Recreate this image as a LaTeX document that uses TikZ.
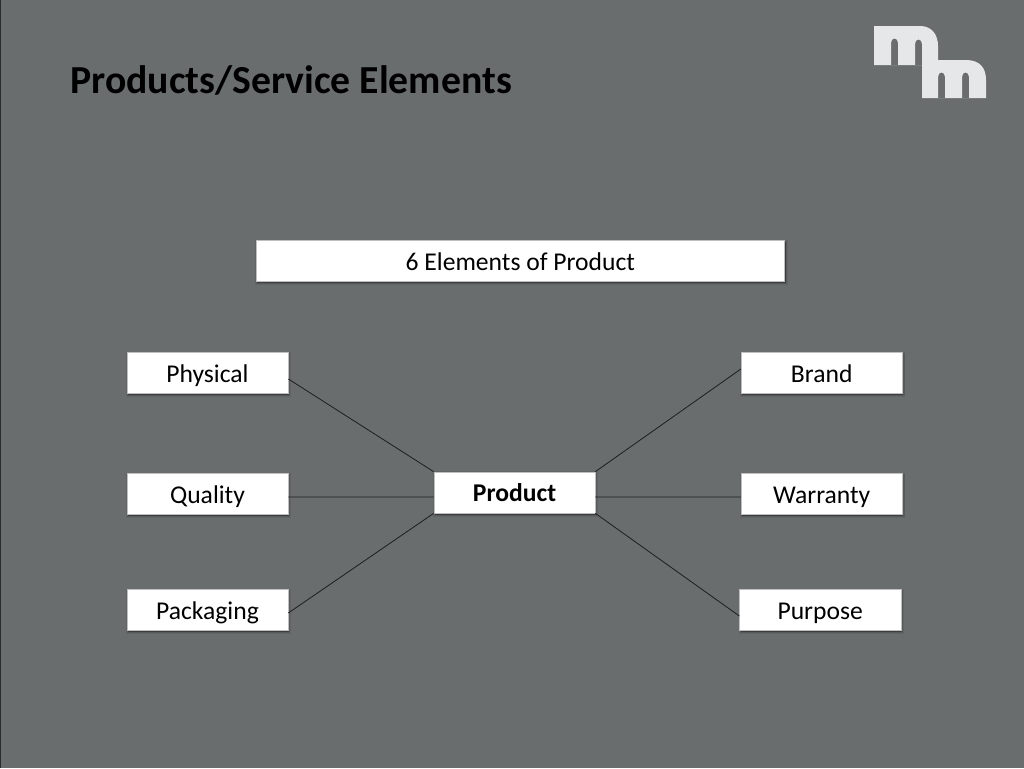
\documentclass[tikz,border=0pt]{standalone}
\usepackage{fontspec}
\setmainfont{Carlito}
\usetikzlibrary{shadows}
\definecolor{bg}{HTML}{696D6E}
\definecolor{logo}{HTML}{E6E7E8}
\definecolor{edge}{HTML}{2A2C2D}
\definecolor{wire}{HTML}{1C1E1F}
\tikzset{
  softshadow/.style={
    general shadow={shadow xshift=0.8pt,shadow yshift=-1.1pt,fill=black,opacity=.07,draw=black,line width=3pt},
    general shadow={shadow xshift=0.8pt,shadow yshift=-1.1pt,fill=black,opacity=.10,draw=black,line width=1.6pt},
    general shadow={shadow xshift=0.8pt,shadow yshift=-1.1pt,fill=black,opacity=.16}},
  card/.style={rectangle,fill=white,draw=white!75!black,line width=.3pt,inner sep=0pt,text height=16pt,text depth=2pt,font=\fontsize{19.2pt}{21pt}\selectfont,text=black,softshadow},
  elem/.style={card,minimum width=121pt,minimum height=31pt},
  link/.style={draw=wire,line width=.6pt},
  titletext/.style={anchor=west,inner sep=0pt,font=\fontsize{29.8pt}{32pt}\selectfont\bfseries,text=black}
}
\begin{document}
\begin{tikzpicture}[x=.75pt,y=-.75pt]
\useasboundingbox (0,0) rectangle (1024,768);
\fill[bg] (0,0) rectangle (1024,768);
\fill[edge] (0,0) rectangle (1.2,768);
\node[titletext] (title) at (70,80.5) {Products/Service Elements};
% logo
\fill[logo,even odd rule] (874,26) -- (920,26) .. controls (932,26) and (938,35) .. (938,46) -- (938,60)
  -- (966,60) .. controls (980,60) and (986,68) .. (986,80) -- (986,98) -- (922,98) -- (922,65) -- (874,65) -- cycle
  (891,65) -- (891,43) .. controls (891,37) and (898,37) .. (898,43) -- (898,65) -- cycle
  (915,65) -- (915,44) .. controls (915,38) and (922,38) .. (922,44) -- (922,65) -- cycle
  (938,98) -- (938,77) .. controls (938,71) and (945,71) .. (945,77) -- (945,98) -- cycle
  (962,98) -- (962,77) .. controls (962,71) and (969,71) .. (969,77) -- (969,98) -- cycle;
% boxes
\node[card,minimum width=396.5pt,minimum height=31pt] (head) at (520.3,261) {6 Elements of Product};
\node[elem] (physical) at (207.5,373) {Physical};
\node[elem] (quality) at (207.5,494) {Quality};
\node[elem] (packaging) at (207.5,610) {Packaging};
\node[elem,font=\fontsize{19.2pt}{21pt}\selectfont\bfseries] (product) at (514.5,492.5) {Product};
\node[elem] (brand) at (821.7,373) {Brand};
\node[elem] (warranty) at (821.7,494) {Warranty};
\node[elem] (purpose) at (820.2,610) {Purpose};
% connectors
\draw[link] ([yshift=-4.5pt]physical.east) -- (product.north west);
\draw[link] ([yshift=-2.2pt]quality.east) -- ([yshift=-3.4pt]product.west);
\draw[link] ([yshift=-2.2pt]packaging.east) -- (product.south west);
\draw[link] ([yshift=3pt]brand.west) -- (product.north east);
\draw[link] ([yshift=-2.2pt]warranty.west) -- ([yshift=-3.4pt]product.east);
\draw[link] ([yshift=-4.5pt]purpose.west) -- (product.south east);
\end{tikzpicture}
\end{document}
